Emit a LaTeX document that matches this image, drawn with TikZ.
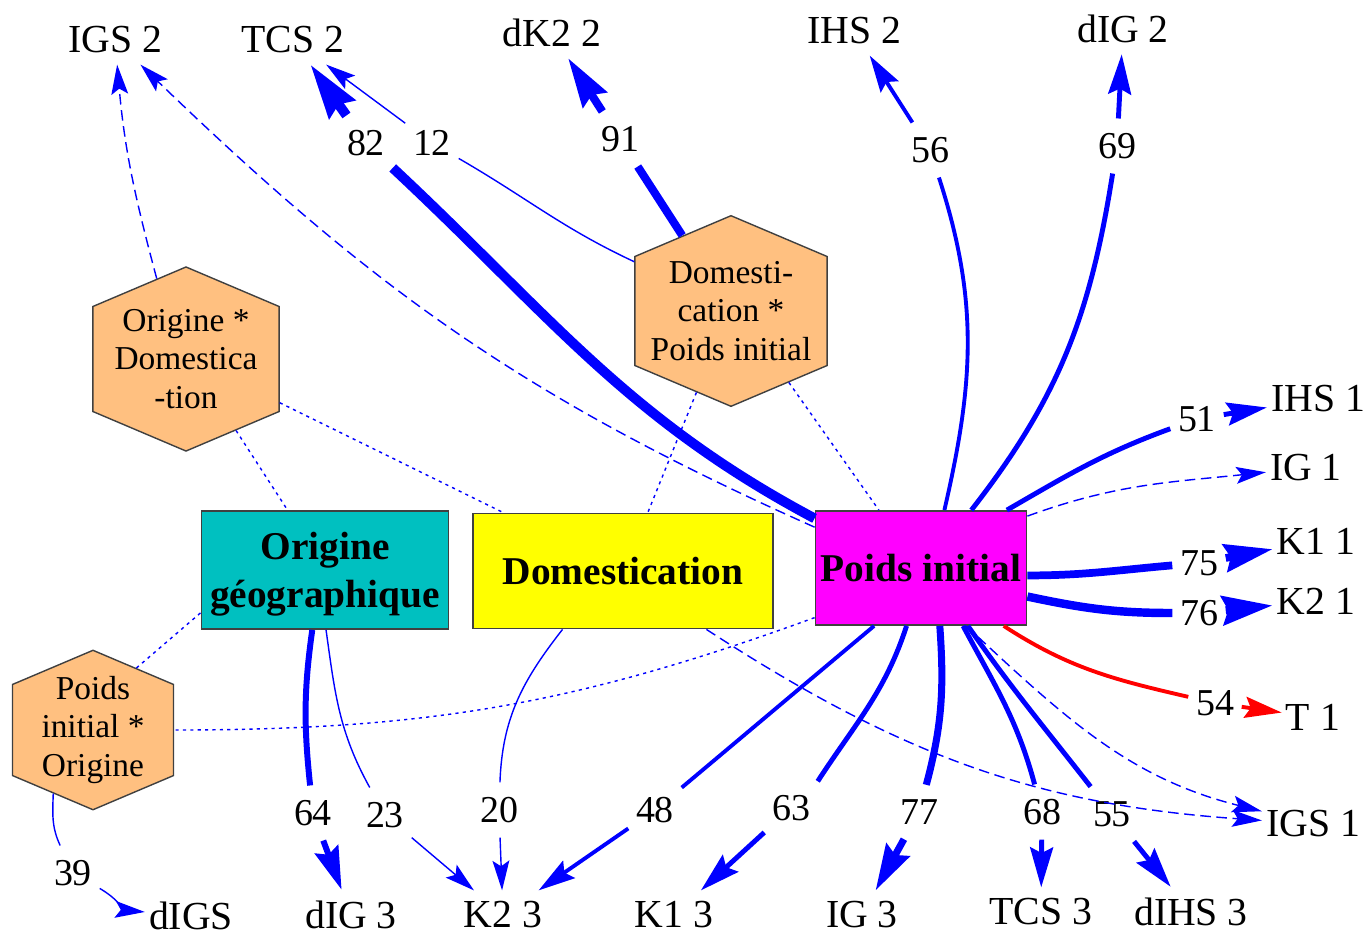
\documentclass[tikz,border=0pt]{standalone}
\usepackage{fontspec}
\setmainfont{Liberation Serif}
\usepackage{xcolor}
\usepackage{tikz}
\usetikzlibrary{arrows.meta,shapes.symbols}
\definecolor{Teal}{HTML}{00C0C0}
\definecolor{SunYellow}{HTML}{FFFF00}
\definecolor{PinkBox}{HTML}{FF00FF}
\definecolor{Peach}{HTML}{FFC080}
\definecolor{EdgeBlue}{HTML}{0000FF}
\definecolor{EdgeRed}{HTML}{FF0000}
\definecolor{BoxGray}{HTML}{404040}

\begin{document}
\begin{tikzpicture}[
    x=0.01cm, y=-0.01cm,
    tgt/.style={font=\fontsize{11.3}{13}\selectfont, inner xsep=1pt, inner ysep=3pt},
    num/.style={font=\fontsize{10.8}{13}\selectfont, inner xsep=2pt, inner ysep=4pt},
    factor/.style={draw=BoxGray, line width=0.5pt, align=center, inner sep=0pt, font=\fontsize{11.2}{13.6}\selectfont\bfseries},
    inter/.style={shape=signal, signal to=north and south, signal pointer angle=134, draw=BoxGray, line width=0.4pt, fill=Peach, inner sep=0pt},
    intertext/.style={align=center, inner sep=0pt, font=\fontsize{9.5}{10.95}\selectfont},
    link/.style={draw=EdgeBlue, line width=#1},
    link/.default=0.4pt,
    dashlink/.style={draw=EdgeBlue, line width=0.4pt, dash pattern=on 3pt off 1.6pt},
    dotlink/.style={draw=EdgeBlue, line width=0.4pt, dash pattern=on 0.9pt off 1.2pt},
    arr/.style={-{Stealth[length=7.3pt 2.9, width=4.1pt 1.7, inset=1.6pt]}}
]
\useasboundingbox (0,0) rectangle (1365,935);

% facteurs
\node[factor, fill=Teal, minimum width=2.47cm, minimum height=1.18cm, text depth=0pt] (origine) at (325,570) {Origine\\géographique};
\node[factor, fill=SunYellow, minimum width=3.00cm, minimum height=1.15cm] (domest) at (623,571) {Domestication};
\node[factor, fill=PinkBox, minimum width=2.11cm, minimum height=1.14cm] (poids) at (921,568) {Poids initial};

% interactions
\node[inter, minimum width=1.86cm, minimum height=1.05cm, label={[intertext]center:Origine *\\Domestica\\-tion}] (od) at (186,359) {};
\node[inter, minimum width=1.92cm, minimum height=1.09cm, label={[intertext]center:Domesti-\\cation *\\Poids initial}] (dp) at (731,311) {};
\node[inter, minimum width=1.61cm, minimum height=0.91cm, label={[intertext]center:Poids\\initial *\\Origine}] (po) at (93,730) {};

% variables
\node[tgt] (igs2) at (115,40) {IGS 2};
\node[tgt] (tcs2) at (293,40) {TCS 2};
\node[tgt] (dk22) at (552,33) {dK2 2};
\node[tgt] (ihs2) at (854,31) {IHS 2};
\node[tgt] (dig2) at (1123,29) {dIG 2};
\node[tgt] (ihs1) at (1318,399) {IHS 1};
\node[tgt] (ig1) at (1306,468) {IG 1};
\node[tgt] (k11) at (1316,541) {K1 1};
\node[tgt] (k21) at (1316,601) {K2 1};
\node[tgt] (t1) at (1313,717) {T 1};
\node[tgt] (igs1) at (1313,824) {IGS 1};
\node[tgt] (dihs3) at (1191,912) {dIHS 3};
\node[tgt] (tcs3) at (1041,912) {TCS 3};
\node[tgt] (ig3) at (862,915) {IG 3};
\node[tgt] (k13) at (674,915) {K1 3};
\node[tgt] (k23) at (503,915) {K2 3};
\node[tgt] (dig3) at (351,915) {dIG 3};
\node[tgt] (digs) at (191,916) {dIGS};

% coefficients
\node[num] (n82) at (366,143) {82};
\node[num] (n12) at (432,143) {12};
\node[num] (n91) at (620,139) {91};
\node[num] (n56) at (930,150) {56};
\node[num] (n69) at (1117,146) {69};
\node[num] (n51) at (1197,419) {51};
\node[num] (n75) at (1199,563) {75};
\node[num] (n76) at (1199,613) {76};
\node[num] (n54) at (1215,703) {54};
\node[num] (n55) at (1112,814) {55};
\node[num] (n68) at (1042,812) {68};
\node[num] (n77) at (919,812) {77};
\node[num] (n63) at (791,808) {63};
\node[num] (n48) at (655,810) {48};
\node[num] (n20) at (499,810) {20};
\node[num] (n23) at (385,815) {23};
\node[num] (n64) at (313,813) {64};
\node[num] (n39) at (73,873) {39};

% Poids initial
\draw[link=2.8pt] (poids.155) to[out=152,in=-43] (n82);
\draw[link=2.8pt, arr] (n82) -- (tcs2);
\draw[link=1.1pt] (poids.68) to[out=77,in=-72] (n56);
\draw[link=1.1pt, arr] (n56) -- (ihs2);
\draw[link=1.4pt] (poids.49) to[out=52,in=-99] (n69);
\draw[link=1.4pt, arr] (n69) -- (dig2);
\draw[link=1.4pt] (poids.34) to[out=30,in=-160] (n51);
\draw[link=1.4pt, arr] (n51) -- (ihs1);
\draw[link=2.2pt] (poids.-4) to[out=0,in=185] (n75);
\draw[link=2.2pt, arr] (n75) -- (k11);
\draw[link=2.4pt] (poids.-15) to[out=-12,in=180] (n76);
\draw[link=2.4pt, arr] (n76) -- (k21);
\draw[link=1.1pt, draw=EdgeRed] (poids.-35) to[out=-33,in=167] (n54);
\draw[link=1.1pt, draw=EdgeRed, arr] (n54) -- (t1);
\draw[link=1.4pt] (poids.-51) to[out=-55,in=128] (n55);
\draw[link=1.4pt, arr] (n55) -- (dihs3);
\draw[link=1.4pt] (poids.-54) to[out=-62,in=105] (n68);
\draw[link=1.4pt, arr] (n68) -- (tcs3);
\draw[link=2pt] (poids.-72) to[out=-86,in=75] (n77);
\draw[link=2pt, arr] (n77) -- (ig3);
\draw[link=1.4pt] (poids.-104) to[out=-108,in=57] (n63.45);
\draw[link=1.4pt, arr] (n63) -- (k13);
\draw[link=1.1pt] (poids.-129) to[out=-140,in=40] (n48);
\draw[link=1.1pt, arr] (n48) -- (k23);
\draw[dashlink, arr] (poids.159) to[out=156,in=-44] (igs2);
\draw[dashlink, arr] (poids.26) to[out=20,in=186] (ig1);
\draw[dashlink, arr] (poids.-52) to[out=-43,in=166] (igs1);

% Domestication
\draw[link] (domest.-136) to[out=-128,in=88] (n20);
\draw[link, arr] (n20) -- (k23);
\draw[dashlink, arr] (domest.-35) to[out=-33,in=176] (igs1);

% Origine
\draw[link=1.7pt] (origine.-102) to[out=-98,in=96] (n64);
\draw[link=1.7pt, arr] (n64) -- (dig3);
\draw[link] (origine.-89) to[out=-82,in=119] (n23);
\draw[link, arr] (n23) -- (k23);

% interactions
\draw[link=2.3pt] (dp) -- (n91);
\draw[link=2.3pt, arr] (n91) -- (dk22);
\draw[link] (dp.153) to[out=155,in=-30] (n12);
\draw[link, arr] (n12) -- (tcs2);
\draw[dashlink, arr] (od.110) to[out=105,in=-85] (igs2);
\draw[link] (po.-122) to[out=-92,in=115] (n39);
\draw[link, arr] (n39) to[out=-30,in=175] (digs);

% liens des interactions
\draw[dotlink] (od.-55) -- (origine.122);
\draw[dotlink] (od.-25) -- (domest.154);
\draw[dotlink] (dp.-113) -- (domest.67);
\draw[dotlink] (dp.-51) -- (poids.126);
\draw[dotlink] (po.55) -- (origine.-161);
\draw[dotlink] (poids.-155) to[out=-160,in=0] (po);
\end{tikzpicture}
\end{document}
